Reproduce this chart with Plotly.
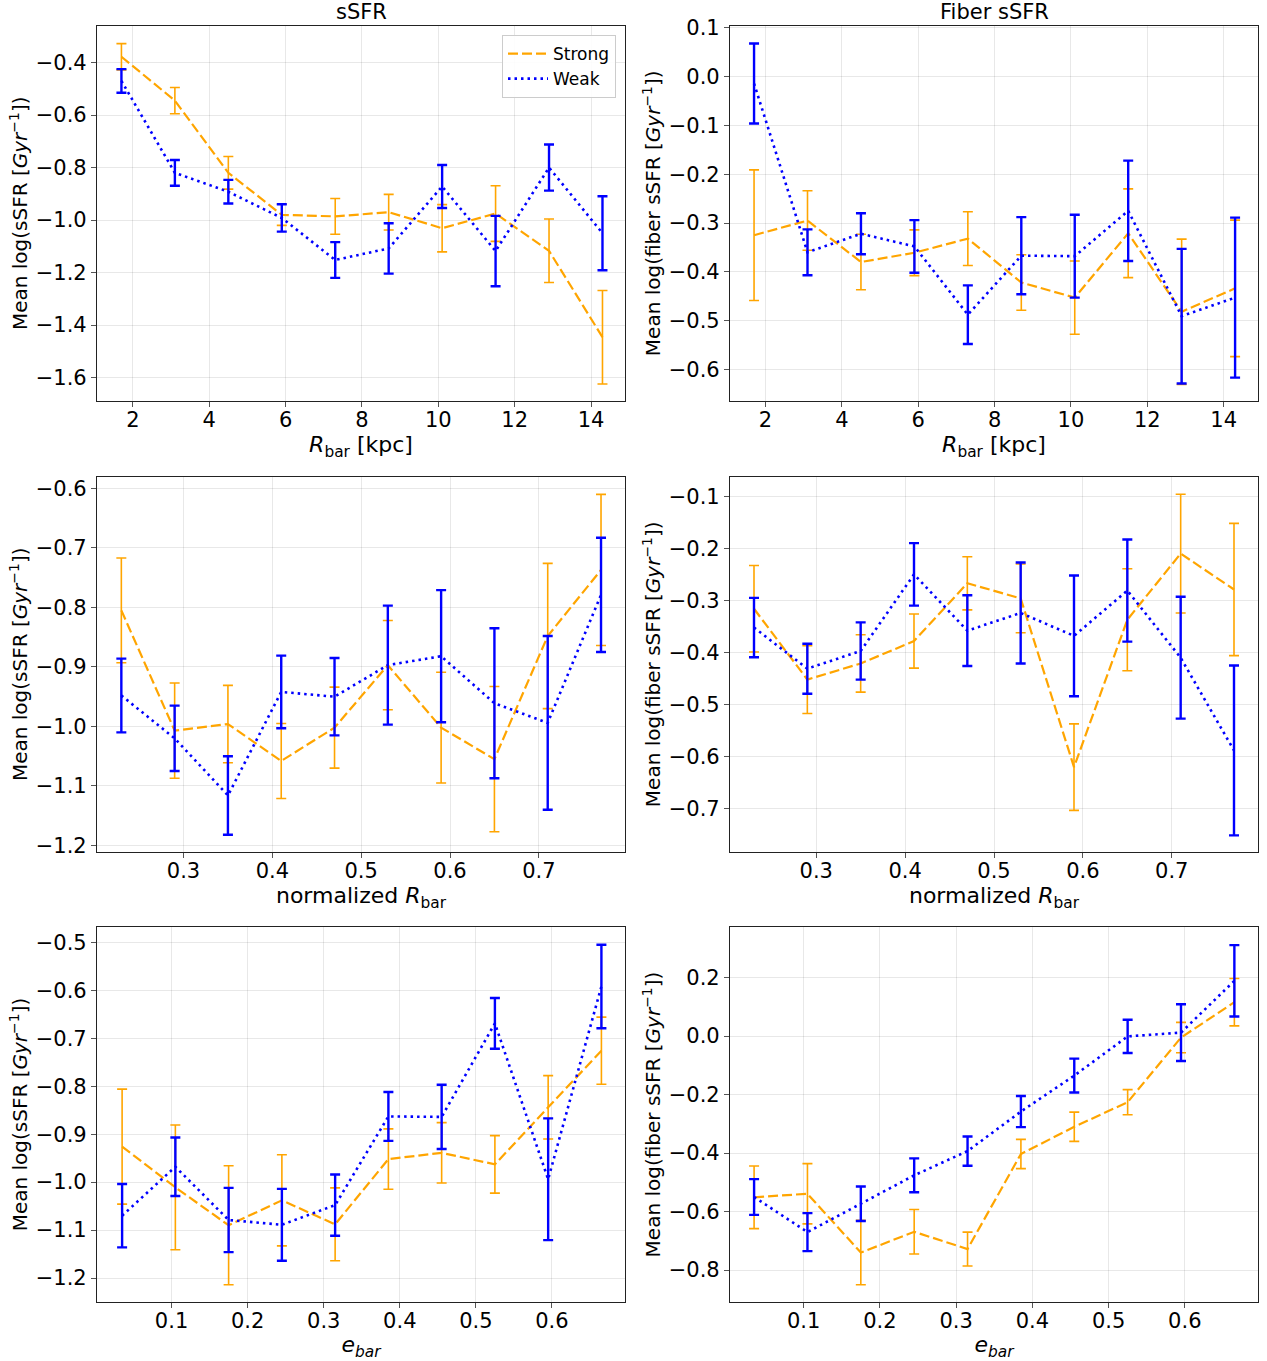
import plotly.graph_objects as go

# ---------------- data ----------------
r_bar = [1.7, 3.1, 4.5, 5.9, 7.3, 8.7, 10.1, 11.5, 12.9, 14.3]
norm_r = [0.23, 0.29, 0.35, 0.41, 0.47, 0.53, 0.59, 0.65, 0.71, 0.77]
e_bar = [0.035, 0.105, 0.175, 0.245, 0.315, 0.385, 0.455, 0.525, 0.595, 0.665]

# panel 1: sSFR vs R_bar
p1_strong = [-0.378, -0.545, -0.82, -0.98, -0.986, -0.97, -1.031, -0.975, -1.117, -1.446]
p1_strong_err = [0.05, 0.05, 0.062, 0.04, 0.068, 0.068, 0.09, 0.106, 0.121, 0.178]
p1_weak = [-0.47, -0.82, -0.892, -0.992, -1.152, -1.108, -0.872, -1.118, -0.80, -1.05]
p1_weak_err = [0.045, 0.049, 0.045, 0.052, 0.068, 0.096, 0.082, 0.134, 0.088, 0.141]

# panel 2: fiber sSFR vs R_bar
p2_strong = [-0.325, -0.295, -0.38, -0.361, -0.332, -0.422, -0.453, -0.321, -0.482, -0.434]
p2_strong_err = [0.134, 0.061, 0.057, 0.047, 0.055, 0.057, 0.075, 0.091, 0.149, 0.14]
p2_weak = [-0.014, -0.36, -0.322, -0.348, -0.488, -0.367, -0.368, -0.275, -0.491, -0.453]
p2_weak_err = [0.082, 0.047, 0.042, 0.054, 0.06, 0.079, 0.085, 0.103, 0.138, 0.164]

# panel 3: sSFR vs normalized R_bar
p3_strong = [-0.805, -1.007, -0.996, -1.058, -1.002, -0.897, -1.002, -1.055, -0.848, -0.737]
p3_strong_err = [0.088, 0.08, 0.065, 0.063, 0.068, 0.075, 0.093, 0.122, 0.122, 0.127]
p3_weak = [-0.948, -1.02, -1.116, -0.942, -0.95, -0.897, -0.882, -0.961, -0.994, -0.779]
p3_weak_err = [0.062, 0.055, 0.066, 0.061, 0.065, 0.1, 0.111, 0.126, 0.146, 0.096]

# panel 4: fiber sSFR vs normalized R_bar
p4_strong = [-0.316, -0.452, -0.421, -0.378, -0.267, -0.296, -0.62, -0.337, -0.21, -0.279]
p4_strong_err = [0.083, 0.065, 0.055, 0.052, 0.051, 0.066, 0.083, 0.098, 0.114, 0.127]
p4_weak = [-0.352, -0.431, -0.397, -0.25, -0.358, -0.324, -0.368, -0.281, -0.41, -0.588]
p4_weak_err = [0.057, 0.048, 0.055, 0.06, 0.068, 0.097, 0.116, 0.098, 0.117, 0.163]

# panel 5: sSFR vs e_bar
p5_strong = [-0.926, -1.011, -1.09, -1.038, -1.088, -0.952, -0.939, -0.963, -0.844, -0.726]
p5_strong_err = [0.12, 0.13, 0.124, 0.095, 0.076, 0.063, 0.063, 0.06, 0.066, 0.07]
p5_weak = [-1.07, -0.968, -1.079, -1.089, -1.048, -0.863, -0.864, -0.669, -0.994, -0.592]
p5_weak_err = [0.066, 0.061, 0.067, 0.075, 0.064, 0.051, 0.067, 0.053, 0.127, 0.087]

# panel 6: fiber sSFR vs e_bar
p6_strong = [-0.551, -0.539, -0.74, -0.669, -0.728, -0.403, -0.31, -0.226, -0.005, 0.116]
p6_strong_err = [0.107, 0.103, 0.11, 0.076, 0.058, 0.05, 0.05, 0.043, 0.052, 0.081]
p6_weak = [-0.55, -0.67, -0.573, -0.476, -0.393, -0.258, -0.135, -0.001, 0.012, 0.189]
p6_weak_err = [0.061, 0.065, 0.059, 0.058, 0.05, 0.053, 0.058, 0.057, 0.097, 0.122]

series_names = ["Strong", "Weak"]
col_titles = ["sSFR", "Fiber sSFR"]

# ---------------- styling ----------------
ORANGE = "#FFA500"
BLUE = "#0000FF"
FONT = "DejaVu Sans, Liberation Sans, sans-serif"
W, H = 1267, 1361

def px_x(a, b):
    return [a / W, b / W]

def px_y(top, bottom):
    return [1 - bottom / H, 1 - top / H]

col_dom = [px_x(97, 625), px_x(730, 1258)]
row_dom = [px_y(25.5, 401), px_y(476.5, 852), px_y(927, 1302)]

ylab_ssfr = "Mean log(sSFR [<i>Gyr</i><sup>−1</sup>])"
ylab_fiber = "Mean log(fiber sSFR [<i>Gyr</i><sup>−1</sup>])"
xlab_r = "<i>R</i><sub>bar</sub> [kpc]"
xlab_n = "normalized <i>R</i><sub>bar</sub>"
xlab_e = "<i>e<sub>bar</sub></i>"

panels = [
    (r_bar, p1_strong, p1_strong_err, p1_weak, p1_weak_err, 0, 0, [1.06, 14.89], [-1.689, -0.259], 2, 0.2, "d", ".1f", xlab_r, ylab_ssfr, 2),
    (r_bar, p2_strong, p2_strong_err, p2_weak, p2_weak_err, 0, 1, [1.07, 14.9], [-0.665, 0.105], 2, 0.1, "d", ".1f", xlab_r, ylab_fiber, 2),
    (norm_r, p3_strong, p3_strong_err, p3_weak, p3_weak_err, 1, 0, [0.2026, 0.797], [-1.211, -0.580], 0.1, 0.1, ".1f", ".1f", xlab_n, ylab_ssfr, 2),
    (norm_r, p4_strong, p4_strong_err, p4_weak, p4_weak_err, 1, 1, [0.203, 0.797], [-0.783, -0.062], 0.1, 0.1, ".1f", ".1f", xlab_n, ylab_fiber, 2),
    (e_bar, p5_strong, p5_strong_err, p5_weak, p5_weak_err, 2, 0, [0.002, 0.696], [-1.250, -0.468], 0.1, 0.1, ".1f", ".1f", xlab_e, ylab_ssfr, 7),
    (e_bar, p6_strong, p6_strong_err, p6_weak, p6_weak_err, 2, 1, [0.0034, 0.696], [-0.909, 0.373], 0.1, 0.2, ".1f", ".1f", xlab_e, ylab_fiber, 7),
]

fig = go.Figure()
layout = dict(
    width=W, height=H,
    margin=dict(l=0, r=0, t=0, b=0, autoexpand=False),
    paper_bgcolor="white", plot_bgcolor="white",
    font=dict(family=FONT, size=20, color="black"),
    showlegend=True,
    legend=dict(
        x=616 / W, y=1 - 35 / H, xanchor="right", yanchor="top",
        bgcolor="rgba(255,255,255,0.9)", bordercolor="#cccccc", borderwidth=1,
        font=dict(size=17), tracegroupgap=0, itemwidth=40,
    ),
    annotations=[],
)

for i, (xs, s, se, w, we, r, c, xr, yr, xdt, ydt, xfmt, yfmt, xl, yl, xso) in enumerate(panels):
    idx = i + 1
    xa = "x" if idx == 1 else f"x{idx}"
    ya = "y" if idx == 1 else f"y{idx}"
    first = i == 0
    fig.add_trace(go.Scatter(
        x=xs, y=s, mode="lines", name=series_names[0], legendgroup="s", showlegend=first,
        line=dict(color=ORANGE, width=2.2, dash="10px,4px"),
        error_y=dict(type="data", array=se, visible=True, color=ORANGE, thickness=1.6, width=5),
        xaxis=xa, yaxis=ya,
    ))
    fig.add_trace(go.Scatter(
        x=xs, y=w, mode="lines", name=series_names[1], legendgroup="w", showlegend=first,
        line=dict(color=BLUE, width=2.6, dash="2.5px,4px"),
        error_y=dict(type="data", array=we, visible=True, color=BLUE, thickness=2.4, width=5),
        xaxis=xa, yaxis=ya,
    ))
    common = dict(
        showline=True, linecolor="#222222", linewidth=1.2, mirror=True,
        ticks="outside", ticklen=5, tickwidth=1.2, tickcolor="#555555",
        showgrid=True, gridcolor="rgba(0,0,0,0.09)", gridwidth=1,
        zeroline=False, tickfont=dict(size=21, family=FONT), automargin=False,
    )
    xkey = "xaxis" if idx == 1 else f"xaxis{idx}"
    ykey = "yaxis" if idx == 1 else f"yaxis{idx}"
    layout[xkey] = dict(
        common, domain=col_dom[c], anchor=ya, range=xr, dtick=xdt, tick0=0,
        tickformat=xfmt, ticklabelstandoff=-5,
        title=dict(text=xl, font=dict(size=22, family=FONT), standoff=xso),
    )
    layout[ykey] = dict(
        common, domain=row_dom[r], anchor=xa, range=yr, dtick=ydt, tick0=0,
        tickformat=yfmt, title=dict(text=yl, font=dict(size=20, family=FONT), standoff=2),
    )

for c, t in enumerate(col_titles):
    layout["annotations"].append(dict(
        text=t, x=sum(col_dom[c]) / 2, y=1 - 12 / H, xref="paper", yref="paper",
        showarrow=False, font=dict(size=21, family=FONT), xanchor="center", yanchor="middle",
    ))

fig.update_layout(**layout)
fig.write_html(
    "out.html",
    config={"displayModeBar": False},
    post_script="document.body.style.margin='0px';document.body.style.padding='0px';",
)
